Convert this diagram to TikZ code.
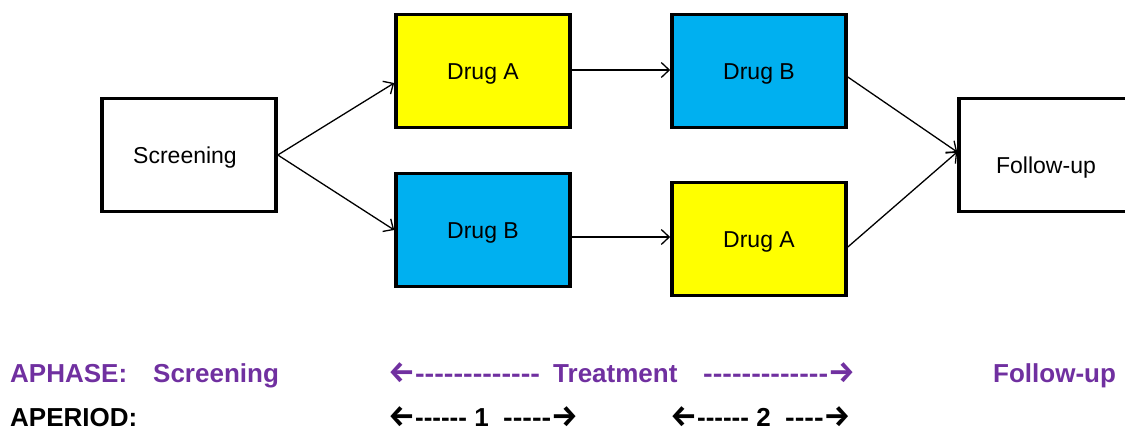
\documentclass[tikz,border=0pt]{standalone}
\usepackage{fontspec}
\setmainfont{Liberation Sans}[Ligatures=TeXOff]
\newfontfamily\arrfont{Fira Sans}
\usetikzlibrary{arrows.meta,calc}
\definecolor{yel}{HTML}{FFFF00}
\definecolor{blu}{HTML}{00B0F0}
\definecolor{pur}{HTML}{7030A0}
\newcommand{\la}{{\arrfont\bfseries\scalebox{1.15}{←}}}
\newcommand{\ra}{{\arrfont\bfseries\scalebox{1.15}{→}}}
\newcommand{\hy}[1]{\scalebox{1.11}[1]{#1}}
\tikzset{
  box/.style={draw=black, line width=3.6pt, minimum width=174pt, minimum height=113pt, inner sep=0pt, text height=16.5pt, text depth=0pt, font=\fontsize{23}{27}\selectfont},
  conn/.style={line width=1.3pt, -{Straight Barb[length=8pt,width=15pt,line width=1.3pt]}},
  lbl/.style={anchor=base west, inner sep=0pt, font=\bfseries\fontsize{26}{30}\selectfont},
}
\begin{document}
\begin{tikzpicture}[x=1pt,y=-1pt]
\useasboundingbox (0,0) rectangle (1125,430);
\clip (0,0) rectangle (1125,430);
\node[box] (scr) at (189,155) {\hspace*{-8pt}Screening};
\node[box, fill=yel] (a1) at (483,71) {Drug A};
\node[box, fill=blu] (b1) at (759,71) {Drug B};
\node[box, fill=blu] (b2) at (483,230) {Drug B};
\node[box, fill=yel] (a2) at (759,239) {Drug A};
\node[box] (fu) at (1046,155) {\raisebox{-10pt}{Follow-up}};
\draw[conn] (scr.east) -- ($(a1.west)+(0,12)$);
\draw[conn] (scr.east) -- (b2.west);
\draw[conn] ($(a1.east)+(0,-1)$) -- ($(b1.west)+(0,-1)$);
\draw[conn] ($(b2.east)+(0,7)$) -- ($(a2.west)+(0,-2)$);
\draw[conn] ($(b1.east)+(0,6)$) -- ($(fu.west)+(0,-3)$);
\draw[conn] ($(a2.east)+(0,8)$) -- ($(fu.west)+(0,-3)$);
\node[lbl, text=pur] (ph) at (10,382) {APHASE:};
\node[lbl, text=pur] (phs) at (153,382) {Screening};
\node[lbl, text=pur] (pht1) at (388,382) {\la\hy{-------------}};
\node[lbl, text=pur] (pht) at (553,382) {Treatment};
\node[lbl, text=pur] (pht2) at (703,382) {\hy{-------------}\ra};
\node[lbl, text=pur] (phf) at (993,382) {Follow-up};
\node[lbl] (pe) at (10,426) {APERIOD:};
\node[lbl] (pe1) at (388,426) {\la------ 1~ \hy{-----}\ra};
\node[lbl] (pe2) at (670,426) {\la------ 2~ \hy{----}\ra};
\end{tikzpicture}
\end{document}
